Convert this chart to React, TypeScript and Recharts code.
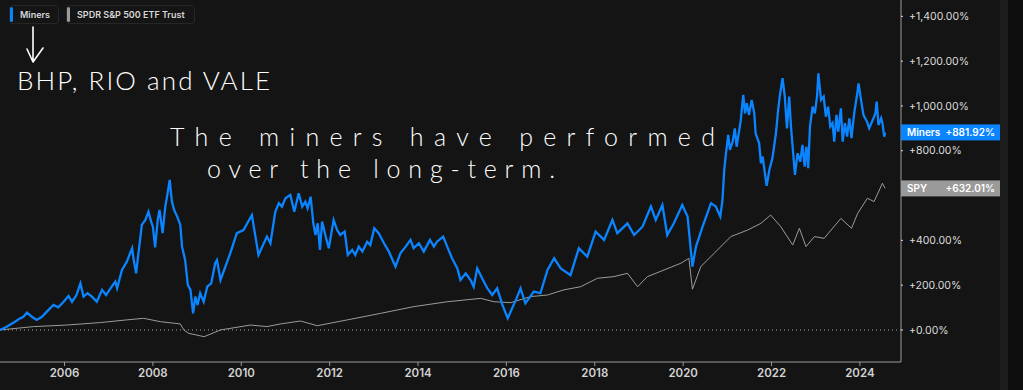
import React from 'react';
import { LineChart, Line, XAxis, YAxis, ReferenceLine, ReferenceDot } from 'recharts';

// Miners (BHP, RIO, VALE) cumulative % return, time as decimal years
const minersT = [
  2004.54, 2004.70, 2004.85, 2004.96, 2005.07, 2005.15, 2005.26, 2005.37, 2005.49, 2005.60,
  2005.75, 2005.86, 2005.98, 2006.09, 2006.17, 2006.27, 2006.36, 2006.43, 2006.52, 2006.62,
  2006.73, 2006.85, 2006.94, 2007.04, 2007.15, 2007.19, 2007.30, 2007.41, 2007.53, 2007.56,
  2007.62, 2007.70, 2007.75, 2007.83, 2007.90, 2007.96, 2008.00, 2008.05, 2008.11, 2008.15,
  2008.22, 2008.28, 2008.32, 2008.38, 2008.43, 2008.48, 2008.55, 2008.62, 2008.66, 2008.73,
  2008.79, 2008.85, 2008.91, 2008.96, 2009.01, 2009.07, 2009.15, 2009.23, 2009.32, 2009.41,
  2009.45, 2009.53, 2009.75, 2009.90, 2010.05, 2010.24, 2010.39, 2010.58, 2010.66, 2010.77,
  2010.85, 2010.92, 2011.00, 2011.11, 2011.20, 2011.30, 2011.38, 2011.45, 2011.50, 2011.57,
  2011.63, 2011.68, 2011.73, 2011.78, 2011.83, 2011.91, 2011.98, 2012.09, 2012.17, 2012.24,
  2012.34, 2012.41, 2012.51, 2012.58, 2012.66, 2012.74, 2012.85, 2012.92, 2013.01, 2013.11,
  2013.23, 2013.34, 2013.49, 2013.60, 2013.72, 2013.83, 2013.90, 2014.02, 2014.13, 2014.27,
  2014.36, 2014.43, 2014.57, 2014.66, 2014.77, 2014.89, 2014.96, 2015.08, 2015.19, 2015.26,
  2015.34, 2015.45, 2015.57, 2015.68, 2015.79, 2015.91, 2016.03, 2016.13, 2016.23, 2016.32,
  2016.43, 2016.62, 2016.77, 2016.93, 2017.08, 2017.23, 2017.45, 2017.64, 2017.83, 2018.02,
  2018.21, 2018.40, 2018.51, 2018.74, 2018.89, 2019.08, 2019.27, 2019.38, 2019.53, 2019.64,
  2019.79, 2019.98, 2020.10, 2020.21, 2020.29, 2020.44, 2020.63, 2020.74, 2020.84, 2020.89,
  2020.93, 2020.96, 2021.02, 2021.06, 2021.12, 2021.17, 2021.21, 2021.27, 2021.30, 2021.36,
  2021.40, 2021.44, 2021.49, 2021.55, 2021.61, 2021.64, 2021.72, 2021.76, 2021.80, 2021.85,
  2021.89, 2021.95, 2022.02, 2022.10, 2022.15, 2022.19, 2022.25, 2022.30, 2022.35, 2022.40,
  2022.44, 2022.49, 2022.53, 2022.59, 2022.65, 2022.70, 2022.75, 2022.79, 2022.83, 2022.87,
  2022.93, 2022.98, 2023.03, 2023.06, 2023.12, 2023.18, 2023.23, 2023.28, 2023.33, 2023.38,
  2023.42, 2023.47, 2023.51, 2023.57, 2023.61, 2023.66, 2023.71, 2023.76, 2023.81, 2023.87,
  2023.93, 2023.97, 2024.02, 2024.08, 2024.16, 2024.21, 2024.29, 2024.35, 2024.38, 2024.42,
  2024.48, 2024.51, 2024.55, 2024.57,
];
const minersV = [
  0, 15, 33, 48, 59, 77, 59, 45, 59, 82,
  112, 101, 126, 152, 126, 156, 208, 149, 164, 149,
  126, 179, 156, 186, 216, 186, 268, 305, 365, 320,
  253, 387, 469, 491, 528, 484, 461, 369, 491, 536,
  432, 551, 595, 670, 573, 536, 506, 469, 372, 312,
  201, 179, 74, 149, 112, 164, 126, 193, 208, 298,
  312, 223, 342, 432, 446, 513, 335, 417, 387, 528,
  566, 551, 588, 603, 528, 610, 551, 573, 543, 595,
  476, 424, 476, 357, 484, 417, 365, 491, 446, 424,
  439, 335, 357, 335, 372, 350, 394, 379, 454, 432,
  387, 350, 283, 342, 372, 402, 365, 387, 350, 402,
  372, 394, 417, 372, 320, 275, 223, 253, 223, 193,
  275, 231, 186, 156, 186, 112, 52, 97, 141, 186,
  119, 171, 164, 268, 320, 275, 245, 365, 327, 439,
  402, 491, 432, 476, 424, 461, 551, 491, 558, 424,
  476, 558, 506, 283, 372, 461, 566, 551, 506, 580,
  714, 774, 871, 804, 841, 900, 818, 893, 930, 1049,
  967, 1012, 960, 1027, 967, 878, 833, 744, 774, 699,
  643, 714, 767, 878, 982, 1049, 1124, 1042, 900, 1042,
  908, 789, 692, 789, 751, 826, 729, 818, 722, 908,
  997, 967, 1042, 1146, 1027, 1042, 952, 997, 908, 923,
  841, 960, 885, 989, 841, 923, 863, 945, 856, 967,
  1042, 1101, 1034, 960, 930, 900, 937, 967, 1019, 915,
  945, 923, 863, 881.92,
];

// SPDR S&P 500 ETF Trust cumulative % return
const spyT = [
  2004.54, 2005.30, 2006.05, 2006.81, 2007.41, 2007.79, 2008.17, 2008.62, 2008.70, 2008.81,
  2009.16, 2009.53, 2010.21, 2010.58, 2010.89, 2011.34, 2011.72, 2012.40, 2013.15, 2013.90,
  2014.66, 2015.42, 2015.72, 2016.10, 2016.55, 2016.93, 2017.30, 2017.68, 2018.06, 2018.43,
  2018.74, 2018.97, 2019.19, 2019.57, 2019.95, 2020.13, 2020.21, 2020.40, 2020.70, 2021.08,
  2021.46, 2021.76, 2021.98, 2022.21, 2022.48, 2022.63, 2022.78, 2022.97, 2023.19, 2023.57,
  2023.81, 2023.95, 2024.17, 2024.32, 2024.51, 2024.57,
];
const spyV = [
  0, 15, 22, 33, 45, 52, 37, 27, 0, -15,
  -30, 0, 22, 15, 27, 40, 19, 45, 74, 104,
  126, 141, 126, 122, 149, 156, 179, 193, 231, 238,
  253, 193, 238, 268, 298, 320, 182, 283, 342, 417,
  446, 476, 513, 461, 379, 454, 372, 417, 409, 498,
  454, 521, 588, 573, 655, 632.01,
];

const xTicks = [2006, 2008, 2010, 2012, 2014, 2016, 2018, 2020, 2022, 2024];
const yTicks = [0, 200, 400, 600, 800, 1000, 1200, 1400];

const seriesNames = ['Miners', 'SPDR S&P 500 ETF Trust'];
const tagNames = ['Miners', 'SPY'];
const lastValues = [881.92, 632.01];

const minersData = minersT.map((t, i) => ({ t, v: minersV[i] }));
const spyData = spyT.map((t, i) => ({ t, v: spyV[i] }));

const X_DOMAIN: [number, number] = [2004.54, 2024.93];
const Y_DOMAIN: [number, number] = [-143, 1473];

const BLUE = '#0a84ff';
const GREY = '#9b9b9b';
const UI_FONT = 'Inter, "Liberation Sans", Arial, sans-serif';
const HAND_FONT = 'Lato, "Open Sans", sans-serif';

function fmtPct(v: number): string {
  const fixed = Math.abs(v).toFixed(2);
  const [intPart, dec] = fixed.split('.');
  const withCommas = intPart.replace(/\B(?=(\d{3})+(?!\d))/g, ',');
  return (v < 0 ? '-' : '+') + withCommas + '.' + dec + '%';
}

// Tick labels that sit under a value tag are covered by it (as in the source)
function YTick(props: any) {
  const { x, y, payload } = props;
  const v = payload.value;
  const covered = lastValues.some((lv) => Math.abs(lv - v) < 40);
  if (covered) return null;
  return (
    <text x={x} y={y} dy="0.355em" textAnchor="start" fill="#dcdcdc" fontSize={10.5} fontFamily={UI_FONT}>
      {fmtPct(v)}
    </text>
  );
}

function makeTag(name: string, value: number, color: string) {
  return (props: any) => {
    const { cx, cy } = props;
    if (cx == null || cy == null) return null;
    return (
      <g>
        <rect x={cx} y={cy - 8} width={99} height={16} fill={color} />
        <text x={cx + 6} y={cy + 3.5} fill="#ffffff" fontSize={10} fontWeight={600} fontFamily={UI_FONT}>
          {name}
        </text>
        <text x={cx + 94} y={cy + 3.5} fill="#ffffff" fontSize={10} fontWeight={600} fontFamily={UI_FONT} textAnchor="end">
          {fmtPct(value)}
        </text>
      </g>
    );
  };
}

function LegendBox({ left, width, color, label }: { left: number; width: number; color: string; label: string }) {
  return (
    <div
      style={{
        position: 'absolute',
        left,
        top: 5,
        width,
        height: 19,
        border: '1px solid #262626',
        borderRadius: 3,
        boxSizing: 'border-box',
        background: '#151515',
      }}
    >
      <div style={{ position: 'absolute', left: 0, top: 1, width: 3, height: 15, borderRadius: 2, background: color }} />
      <div
        style={{
          position: 'absolute',
          left: 10,
          top: 3,
          fontFamily: UI_FONT,
          fontSize: 9,
          fontWeight: 600,
          color: '#d8d8d8',
          whiteSpace: 'nowrap',
          lineHeight: '11px',
        }}
      >
        {label}
      </div>
    </div>
  );
}

export default function App() {
  return (
    <div style={{ position: 'absolute', left: 0, top: 0, width: 1023, height: 390, background: '#141414', overflow: 'hidden' }}>
      <div style={{ position: 'absolute', left: 1000, top: 0, width: 8, height: 390, background: '#1d1d1d' }} />
      <div style={{ position: 'absolute', left: 1008, top: 0, width: 15, height: 390, background: '#0e0e0e' }} />
      <div style={{ position: 'absolute', left: 0, top: 0 }}>
        <LineChart width={1023} height={390} margin={{ top: 0, right: 0, bottom: 0, left: 0 }}>
          <XAxis
            dataKey="t"
            type="number"
            domain={X_DOMAIN}
            allowDataOverflow
            ticks={xTicks}
            tickFormatter={(v: number) => String(v)}
            height={28}
            axisLine={{ stroke: '#9a9a9a' }}
            tickLine={{ stroke: '#9a9a9a' }}
            tickSize={4}
            tickMargin={3}
            tick={{ fill: '#d2d2d2', fontSize: 11.5, fontWeight: 600, fontFamily: UI_FONT }}
          />
          <YAxis
            orientation="right"
            type="number"
            domain={Y_DOMAIN}
            allowDataOverflow
            ticks={yTicks}
            width={122}
            axisLine={{ stroke: '#9a9a9a' }}
            tickLine={{ stroke: '#dddddd' }}
            tickSize={2}
            tickMargin={6}
            tick={<YTick />}
          />
          <ReferenceLine y={0} stroke="#a8a8a8" strokeDasharray="1 3" />
          <Line
            data={spyData}
            dataKey="v"
            type="linear"
            stroke={GREY}
            strokeWidth={1}
            dot={false}
            activeDot={false}
            isAnimationActive={false}
          />
          <Line
            data={minersData}
            dataKey="v"
            type="linear"
            stroke={BLUE}
            strokeWidth={2.3}
            dot={false}
            activeDot={false}
            isAnimationActive={false}
          />
          <ReferenceDot x={X_DOMAIN[1]} y={lastValues[0]} shape={makeTag(tagNames[0], lastValues[0], BLUE)} />
          <ReferenceDot x={X_DOMAIN[1]} y={lastValues[1]} shape={makeTag(tagNames[1], lastValues[1], '#9a9a9a')} />
        </LineChart>
      </div>
      <LegendBox left={9} width={50} color={BLUE} label={seriesNames[0]} />
      <LegendBox left={66} width={129} color={GREY} label={seriesNames[1]} />
      <svg width={1023} height={390} style={{ position: 'absolute', left: 0, top: 0, pointerEvents: 'none' }}>
        <path d="M33 27 L33 62 M27 49 L33 62 L43 48" stroke="#ffffff" strokeWidth={1.6} fill="none" strokeLinecap="round" strokeLinejoin="round" />
        <text x={17} y={90} fill="#ffffff" fontFamily={HAND_FONT} fontWeight={300} fontSize={26} textLength={253} lengthAdjust="spacing">
          BHP, RIO and VALE
        </text>
        <text x={170} y={146} fill="#ffffff" fontFamily={HAND_FONT} fontWeight={300} fontSize={25} textLength={545} lengthAdjust="spacing">
          The miners have performed
        </text>
        <text x={207} y={178} fill="#ffffff" fontFamily={HAND_FONT} fontWeight={300} fontSize={25} textLength={348} lengthAdjust="spacing">
          over the long-term.
        </text>
      </svg>
    </div>
  );
}
